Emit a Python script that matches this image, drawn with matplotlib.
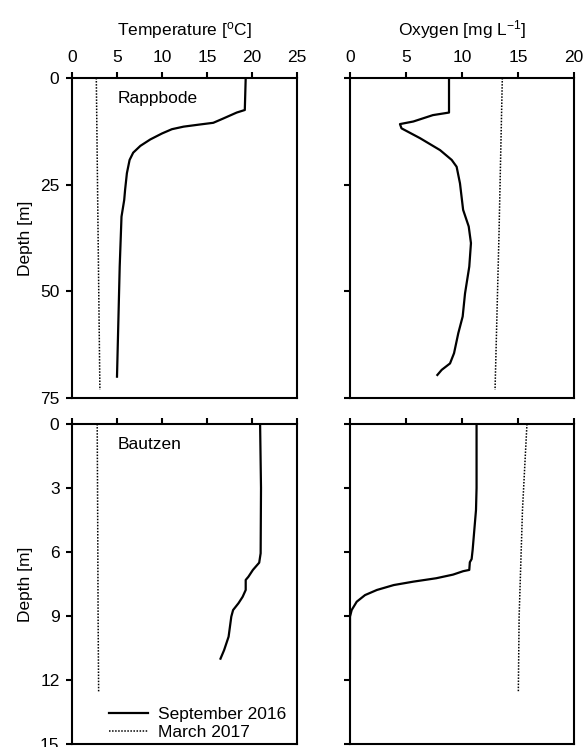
import numpy as np
import matplotlib.pyplot as plt

plt.rcParams['font.family'] = ['Liberation Sans', 'DejaVu Sans']
plt.rcParams['mathtext.default'] = 'regular'
plt.rcParams['font.size'] = 12.5

# Rappbode, September 2016
rb_tiefe_temp = [0, 7.5, 8.1, 9.5, 10.5, 10.9, 11.4, 12.0, 13.0, 14.4, 15.9, 17.5, 19.2,
                 22.3, 26.2, 28.6, 32.5, 44.2, 70]
rb_temp_sep = [19.3, 19.2, 18.3, 16.8, 15.7, 14.2, 12.4, 11.1, 10.0, 8.7, 7.6, 6.8, 6.4,
               6.1, 5.9, 5.8, 5.5, 5.3, 5.0]
rb_tiefe_o2 = [0, 8.1, 8.7, 10.2, 10.8, 11.8, 14.1, 16.9, 19.2, 20.8, 24.7, 30.9, 34.8,
               38.7, 44.2, 50.5, 55.9, 59.8, 64.5, 66.9, 68.4, 69.6]
rb_o2_sep = [8.84, 8.84, 7.4, 5.65, 4.46, 4.6, 6.25, 8.04, 9.08, 9.52, 9.82, 10.1, 10.6,
             10.8, 10.65, 10.27, 10.06, 9.67, 9.29, 8.93, 8.19, 7.8]
# Rappbode, Maerz 2017
rb_tiefe_mar = [0, 37, 73.1]
rb_temp_mar = [2.7, 2.9, 3.1]
rb_o2_mar = [13.6, 13.3, 12.95]

# Bautzen, September 2016
bz_tiefe_temp = [0, 3.0, 6.06, 6.5, 6.84, 7.16, 7.31, 7.78, 8.1, 8.4, 8.72, 9.03, 9.97, 10.6, 11.0]
bz_temp_sep = [20.9, 21.0, 20.96, 20.8, 20.1, 19.6, 19.3, 19.3, 18.96, 18.5, 17.9, 17.7, 17.4, 16.9, 16.5]
bz_tiefe_o2 = [0, 3, 4.03, 5.9, 6.33, 6.48, 6.84, 6.9, 7.06, 7.23, 7.39, 7.55, 7.78,
               8.02, 8.33, 8.72, 9.03, 11]
bz_o2_sep = [11.3, 11.3, 11.25, 10.95, 10.86, 10.7, 10.65, 10.1, 9.2, 7.7, 5.65, 3.9, 2.4,
             1.34, 0.6, 0.15, 0.0, 0.0]
# Bautzen, Maerz 2017
bz_tiefe_mar = [0, 4.03, 9.03, 12.55]
bz_temp_mar = [2.8, 2.85, 2.9, 2.96]
bz_o2_mar = [15.8, 15.4, 15.1, 15.03]

fig = plt.figure(figsize=(5.83, 7.47), dpi=100)
W, H = 583, 747

def achse(x0, x1, y0, y1):
    # Pixelgrenzen -> Figurenkoordinaten
    return fig.add_axes([x0 / W, 1 - y1 / H, (x1 - x0) / W, (y1 - y0) / H])

ax_rt = achse(72, 297, 78, 398)
ax_ro = achse(350, 574, 78, 398)
ax_bt = achse(72, 297, 424, 744)
ax_bo = achse(350, 574, 424, 744)

lw = 1.6
dot = dict(color='k', lw=1.1, linestyle=(0, (1, 1)))

ax_rt.plot(rb_temp_sep, rb_tiefe_temp, color='k', lw=lw, label='September 2016')
ax_rt.plot(rb_temp_mar, rb_tiefe_mar, **dot, label='March 2017')
ax_ro.plot(rb_o2_sep, rb_tiefe_o2, color='k', lw=lw)
ax_ro.plot(rb_o2_mar, rb_tiefe_mar, **dot)
ax_bt.plot(bz_temp_sep, bz_tiefe_temp, color='k', lw=lw, label='September 2016')
ax_bt.plot(bz_temp_mar, bz_tiefe_mar, **dot, label='March 2017')
ax_bo.plot(bz_o2_sep, bz_tiefe_o2, color='k', lw=lw)
ax_bo.plot(bz_o2_mar, bz_tiefe_mar, **dot)

for ax in (ax_rt, ax_ro, ax_bt, ax_bo):
    for s in ax.spines.values():
        s.set_linewidth(1.5)
    ax.xaxis.tick_top()
    ax.tick_params(direction='out', length=4, width=1.5, pad=5,
                   top=True, bottom=False, left=True, right=False)

# Temperatur links, Sauerstoff rechts
for ax in (ax_rt, ax_bt):
    ax.set_xlim(0, 25)
    ax.set_xticks(np.arange(0, 26, 5))
for ax in (ax_ro, ax_bo):
    ax.set_xlim(0, 20)
    ax.set_xticks(np.arange(0, 21, 5))
for ax in (ax_rt, ax_ro):
    ax.set_ylim(75, 0)
    ax.set_yticks([0, 25, 50, 75])
for ax in (ax_bt, ax_bo):
    ax.set_ylim(15, 0)
    ax.set_yticks([0, 3, 6, 9, 12, 15])
    ax.tick_params(labeltop=False)
for ax in (ax_ro, ax_bo):
    ax.tick_params(labelleft=False)

ax_rt.xaxis.set_label_position('top')
ax_ro.xaxis.set_label_position('top')
ax_rt.set_xlabel('Temperature [$^{o}$C]', labelpad=11)
ax_ro.set_xlabel('Oxygen [mg L$^{-1}$]', labelpad=11)
ax_rt.set_ylabel('Depth [m]', labelpad=5)
ax_bt.set_ylabel('Depth [m]', labelpad=5)

ax_rt.text(5.1, 4.7, 'Rappbode', va='center', ha='left')
ax_bt.text(5.1, 0.98, 'Bautzen', va='center', ha='left')

ax_bt.legend(loc='lower left', bbox_to_anchor=(0.12, -0.02), frameon=False,
             handlelength=2.2, handletextpad=0.6, labelspacing=0.15,
             borderaxespad=0.2)

fig.savefig('out.png', dpi=100)
